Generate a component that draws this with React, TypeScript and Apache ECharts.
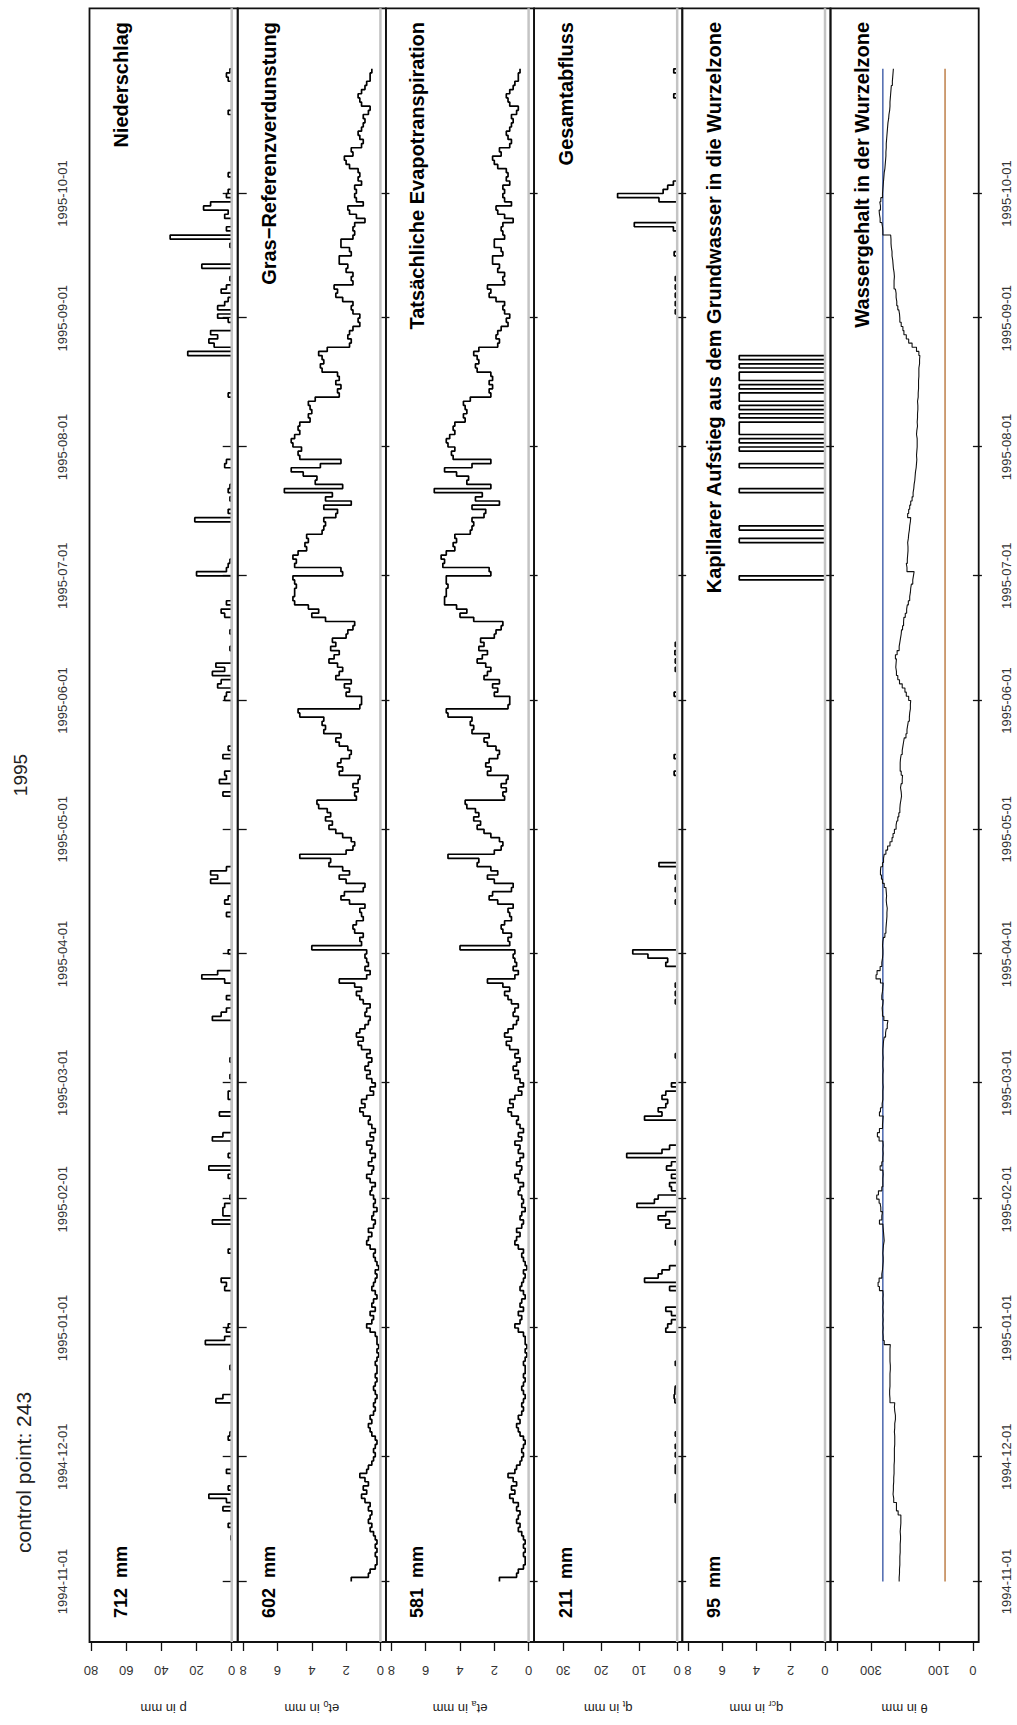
import React, { useEffect, useRef } from "react";
import * as echarts from "echarts";

// ---------- data ----------
const DAY = 86400000;
const START_DATE = "1994-11-01";
const N_DAYS = 365;

const monthTicks = [
  "1994-11-01", "1994-12-01", "1995-01-01", "1995-02-01", "1995-03-01", "1995-04-01",
  "1995-05-01", "1995-06-01", "1995-07-01", "1995-08-01", "1995-09-01", "1995-10-01",
];

const panelTitles = [
  "Niederschlag",
  "Gras\u2212Referenzverdunstung",
  "Tatsächliche Evapotranspiration",
  "Gesamtabfluss",
  "Kapillarer Aufstieg aus dem Grundwasser in die Wurzelzone",
  "Wassergehalt in der Wurzelzone",
];
const panelTotals = ["712  mm", "602  mm", "581  mm", "211  mm", "95  mm", ""];
const axisNames = ["p in mm", "et{s|0} in mm", "et{s|a} in mm", "q{s|t} in mm", "q{s|cr} in mm", "\u03b8 in mm"];
const yTickValues = [[0, 20, 40, 60, 80], [0, 2, 4, 6, 8], [0, 2, 4, 6, 8], [0, 10, 20, 30], [0, 2, 4, 6, 8], [0, 100, 200, 300, 400]];
const yLabelValues = [[0, 20, 40, 60, 80], [0, 2, 4, 6, 8], [0, 2, 4, 6, 8], [0, 10, 20, 30], [0, 2, 4, 6, 8], [0, 100, 300]];

// precipitation (mm/day), rain days only
const precipDates = [
  "1994-11-11", "1994-11-14", "1994-11-18", "1994-11-20", "1994-11-21", "1994-11-23", "1994-11-27",
  "1994-12-05", "1994-12-06", "1994-12-14", "1994-12-15", "1994-12-22", "1994-12-28", "1994-12-29", "1994-12-31",
  "1995-01-01", "1995-01-10", "1995-01-11", "1995-01-12", "1995-01-19", "1995-01-26", "1995-01-28", "1995-01-29", "1995-01-30",
  "1995-02-01", "1995-02-06", "1995-02-08", "1995-02-11", "1995-02-15", "1995-02-16", "1995-02-21", "1995-02-25", "1995-02-26",
  "1995-03-02", "1995-03-06", "1995-03-16", "1995-03-17", "1995-03-18", "1995-03-21", "1995-03-25", "1995-03-26", "1995-03-27",
  "1995-04-01", "1995-04-10", "1995-04-13", "1995-04-14", "1995-04-18", "1995-04-19", "1995-04-20", "1995-04-21",
  "1995-05-09", "1995-05-12", "1995-05-13", "1995-05-14", "1995-05-18", "1995-05-20",
  "1995-06-01", "1995-06-02", "1995-06-04", "1995-06-05", "1995-06-07", "1995-06-08", "1995-06-09", "1995-06-13", "1995-06-17",
  "1995-06-21", "1995-06-22", "1995-06-24",
  "1995-07-01", "1995-07-02", "1995-07-03", "1995-07-04", "1995-07-14", "1995-07-16", "1995-07-19", "1995-07-21", "1995-07-22",
  "1995-07-27", "1995-07-28",
  "1995-08-13", "1995-08-23", "1995-08-25", "1995-08-26", "1995-08-27", "1995-08-28", "1995-08-31",
  "1995-09-01", "1995-09-03", "1995-09-04", "1995-09-05", "1995-09-07", "1995-09-08", "1995-09-10", "1995-09-13", "1995-09-18",
  "1995-09-20", "1995-09-22", "1995-09-25", "1995-09-26", "1995-09-27", "1995-09-28", "1995-09-30",
  "1995-10-01", "1995-10-05", "1995-10-20", "1995-10-28", "1995-10-29", "1995-10-30",
];
const precipMm = [
  0.5, 2, 5, 3, 13, 2, 3,
  2, 1, 9, 5, 1, 15, 4, 3,
  2, 4, 3, 6, 2, 11, 5, 5, 4,
  1, 2, 13, 2, 11, 5, 7, 2, 2,
  1, 1, 11, 6, 3, 3, 4, 17, 8,
  2, 3, 4, 2, 12, 8, 12, 3,
  5, 7, 3, 4, 5, 2,
  4, 3, 8, 6, 11, 4, 9, 1, 1,
  4, 6, 3,
  20, 3, 2, 1, 21, 2, 1, 2, 1,
  4, 3,
  2, 25, 10, 13, 8, 12, 2,
  8, 8, 4, 2, 6, 3, 1, 17, 1,
  35, 3, 4, 2, 16, 12, 3,
  2, 2, 2, 2, 3, 1,
];

// grass reference evapotranspiration et0 (mm/day), daily from 1994-11-01
const et0 = [
  // Nov
  1.7, 0.7, 0.6, 0.3, 0.2, 0.2, 0.3, 0.2, 0.3, 0.2, 0.3, 0.4, 0.6, 0.5, 0.7, 0.6, 0.5, 0.7, 0.6, 0.9,
  1.1, 0.8, 1.0, 0.7, 0.9, 1.2, 0.8, 0.7, 0.5, 0.4,
  // Dec
  0.3, 0.4, 0.3, 0.2, 0.3, 0.5, 0.6, 0.7, 0.5, 0.6, 0.4, 0.3, 0.4, 0.3, 0.2, 0.3, 0.4, 0.3, 0.2, 0.3,
  0.2, 0.2, 0.3, 0.2, 0.1, 0.2, 0.1, 0.2, 0.2, 0.3, 0.6,
  // Jan
  0.8, 0.5, 0.4, 0.6, 0.3, 0.5, 0.4, 0.2, 0.3, 0.5, 0.4, 0.3, 0.2, 0.3, 0.1, 0.2, 0.3, 0.4, 0.3, 0.6,
  0.8, 0.7, 0.5, 0.7, 0.4, 0.3, 0.5, 0.4, 0.2, 0.4, 0.3,
  // Feb
  0.4, 0.6, 0.5, 0.3, 0.6, 0.8, 0.5, 0.4, 0.7, 0.5, 0.3, 0.6, 0.5, 0.8, 0.4, 0.6, 0.3, 0.5, 0.7, 0.6,
  1.0, 1.2, 0.9, 1.1, 0.8, 0.4, 0.6, 0.3,
  // Mar
  0.5, 0.8, 0.6, 0.9, 0.7, 0.5, 0.8, 0.6, 1.1, 1.3, 1.0, 1.4, 1.2, 0.9, 0.7, 0.6, 0.9, 0.8, 0.6, 1.0,
  1.2, 1.4, 1.1, 1.5, 2.4, 0.8, 0.6, 0.9, 0.7, 0.8, 0.9,
  // Apr
  0.8, 4.0, 1.1, 1.2, 1.0, 1.5, 1.6, 1.4, 1.0, 1.1, 1.2, 0.9, 1.8, 2.3, 2.1, 1.0, 0.9, 2.0, 2.4, 1.8,
  2.2, 3.0, 2.9, 4.7, 2.0, 1.6, 1.5, 1.7, 2.2, 2.6,
  // May
  3.0, 2.8, 3.2, 2.9, 3.1, 3.6, 3.7, 1.4, 1.5, 1.3, 1.6, 1.3, 1.2, 2.4, 2.2, 2.5, 2.3, 1.8, 1.7, 1.9,
  2.4, 2.6, 2.3, 3.3, 3.2, 3.4, 3.3, 4.7, 4.8, 1.2, 1.1,
  // Jun
  1.1, 2.0, 1.8, 2.1, 1.7, 2.6, 2.4, 2.2, 2.5, 3.0, 2.7, 2.4, 2.9, 2.6, 2.8, 2.0, 1.9, 1.6, 1.5, 3.2,
  4.0, 3.6, 4.2, 5.0, 5.1, 5.0, 5.0, 4.9, 5.0, 5.1,
  // Jul
  2.2, 2.3, 5.0, 4.9, 5.1, 4.8, 4.3, 4.4, 4.2, 4.3, 3.4, 3.3, 3.2, 3.3, 2.6, 2.5, 3.3, 1.7, 3.2, 2.8,
  5.6, 2.2, 3.8, 3.7, 4.5, 5.2, 3.5, 2.3, 4.7, 4.8, 4.6,
  // Aug
  5.1, 5.2, 5.0, 4.7, 4.8, 4.7, 4.1, 4.2, 4.0, 4.1, 4.2, 3.8, 2.4, 2.5, 2.3, 2.6, 2.4, 2.5, 3.4, 3.5,
  3.3, 3.4, 3.6, 3.1, 1.8, 1.7, 1.9, 1.8, 1.6, 1.2, 1.3,
  // Sep
  1.2, 1.6, 1.7, 1.6, 2.2, 2.6, 2.5, 2.7, 1.6, 1.7, 1.6, 2.0, 1.9, 2.4, 2.4, 1.7, 1.8, 2.3, 2.3, 1.6,
  1.5, 1.6, 1.5, 0.9, 1.4, 1.8, 1.9, 1.0, 1.4, 1.5,
  // Oct
  1.4, 1.5, 1.1, 1.3, 1.2, 1.3, 1.8, 2.0, 2.1, 1.6, 1.7, 1.1, 1.0, 1.2, 1.3, 1.1, 1.0, 0.9, 1.0, 0.7,
  0.6, 1.1, 1.2, 1.3, 1.1, 0.9, 0.8, 0.6, 0.6, 0.5, 0.5,
];

// actual evapotranspiration eta (mm/day)
const eta = [
  // Nov
  1.7, 0.7, 0.6, 0.3, 0.2, 0.2, 0.3, 0.2, 0.3, 0.2, 0.3, 0.4, 0.6, 0.5, 0.7, 0.6, 0.5, 0.7, 0.6, 0.9,
  1.1, 0.8, 1.0, 0.7, 0.9, 1.2, 0.8, 0.7, 0.5, 0.4,
  // Dec
  0.3, 0.4, 0.3, 0.2, 0.3, 0.5, 0.6, 0.7, 0.5, 0.6, 0.4, 0.3, 0.4, 0.3, 0.2, 0.3, 0.4, 0.3, 0.2, 0.3,
  0.2, 0.2, 0.3, 0.2, 0.1, 0.2, 0.1, 0.2, 0.2, 0.3, 0.6,
  // Jan
  0.8, 0.5, 0.4, 0.6, 0.3, 0.5, 0.4, 0.2, 0.3, 0.5, 0.4, 0.3, 0.2, 0.3, 0.1, 0.2, 0.3, 0.4, 0.3, 0.6,
  0.8, 0.7, 0.5, 0.7, 0.4, 0.3, 0.5, 0.4, 0.2, 0.4, 0.3,
  // Feb
  0.4, 0.6, 0.5, 0.3, 0.6, 0.8, 0.5, 0.4, 0.7, 0.5, 0.3, 0.6, 0.5, 0.8, 0.4, 0.6, 0.3, 0.5, 0.7, 0.6,
  1.0, 1.2, 0.9, 1.1, 0.8, 0.4, 0.6, 0.3,
  // Mar
  0.5, 0.8, 0.6, 0.9, 0.7, 0.5, 0.8, 0.6, 1.1, 1.3, 1.0, 1.4, 1.2, 0.9, 0.7, 0.6, 0.9, 0.8, 0.6, 1.0,
  1.2, 1.4, 1.1, 1.5, 2.4, 0.8, 0.6, 0.9, 0.7, 0.8, 0.9,
  // Apr
  0.8, 4.0, 1.1, 1.2, 1.0, 1.5, 1.6, 1.4, 1.0, 1.1, 1.2, 0.9, 1.8, 2.3, 2.1, 1.0, 0.9, 2.0, 2.4, 1.8,
  2.2, 3.0, 2.9, 4.7, 2.0, 1.6, 1.5, 1.7, 2.2, 2.6,
  // May
  3.0, 2.8, 3.2, 2.9, 3.1, 3.6, 3.7, 1.4, 1.5, 1.3, 1.6, 1.3, 1.2, 2.4, 2.2, 2.5, 2.3, 1.8, 1.7, 1.9,
  2.4, 2.6, 2.3, 3.3, 3.2, 3.4, 3.3, 4.7, 4.8, 1.2, 1.1,
  // Jun
  1.1, 2.0, 1.8, 2.1, 1.7, 2.6, 2.4, 2.2, 2.5, 3.0, 2.7, 2.4, 2.9, 2.6, 2.8, 2.0, 1.9, 1.6, 1.5, 3.2,
  4.0, 3.6, 4.2, 4.9, 4.9, 4.8, 4.8, 4.7, 4.8, 4.8,
  // Jul
  2.2, 2.3, 5.0, 4.9, 5.1, 4.8, 4.3, 4.4, 4.2, 4.3, 3.4, 3.3, 3.2, 3.3, 2.6, 2.5, 3.3, 1.7, 3.1, 2.7,
  5.5, 2.2, 3.6, 3.5, 4.2, 4.9, 3.3, 2.2, 4.4, 4.5, 4.3,
  // Aug
  4.7, 4.8, 4.6, 4.3, 4.4, 4.3, 3.7, 3.8, 3.6, 3.7, 3.8, 3.4, 2.2, 2.3, 2.1, 2.3, 2.1, 2.2, 3.0, 3.1,
  2.9, 3.0, 3.2, 2.9, 1.8, 1.7, 1.9, 1.8, 1.6, 1.2, 1.3,
  // Sep
  1.1, 1.4, 1.5, 1.4, 1.9, 2.3, 2.2, 2.4, 1.4, 1.5, 1.4, 1.8, 1.7, 2.1, 2.1, 1.5, 1.6, 2.0, 2.0, 1.4,
  1.5, 1.6, 1.5, 0.9, 1.4, 1.8, 1.9, 1.0, 1.4, 1.5,
  // Oct
  1.4, 1.5, 1.1, 1.3, 1.2, 1.3, 1.8, 2.0, 2.1, 1.6, 1.7, 1.1, 1.0, 1.2, 1.3, 1.1, 1.0, 0.9, 1.0, 0.7,
  0.6, 1.1, 1.2, 1.3, 1.1, 0.9, 0.8, 0.6, 0.6, 0.5, 0.5,
];

// total discharge qt (mm/day), days with runoff only
const runoffDates = [
  "1994-11-20", "1994-11-21", "1994-11-27", "1994-11-28", "1994-12-01", "1994-12-03", "1994-12-06",
  "1994-12-14", "1994-12-15", "1994-12-16", "1994-12-17", "1994-12-23", "1994-12-31",
  "1995-01-01", "1995-01-02", "1995-01-04", "1995-01-05", "1995-01-10", "1995-01-12", "1995-01-13", "1995-01-14",
  "1995-01-15", "1995-01-21", "1995-01-25", "1995-01-26", "1995-01-27", "1995-01-28", "1995-01-30", "1995-01-31",
  "1995-02-01", "1995-02-03", "1995-02-04", "1995-02-06", "1995-02-08", "1995-02-09", "1995-02-11", "1995-02-12",
  "1995-02-13", "1995-02-20", "1995-02-21", "1995-02-22", "1995-02-23", "1995-02-24", "1995-02-25", "1995-02-26", "1995-02-28",
  "1995-03-07", "1995-03-20", "1995-03-22", "1995-03-24", "1995-03-29", "1995-03-30", "1995-03-31",
  "1995-04-01", "1995-04-13", "1995-04-16", "1995-04-19", "1995-04-22",
  "1995-05-14", "1995-05-18", "1995-06-02", "1995-06-08", "1995-06-10", "1995-06-12", "1995-06-14",
  "1995-09-02", "1995-09-04", "1995-09-06", "1995-09-08", "1995-09-10", "1995-09-16", "1995-09-22", "1995-09-23",
  "1995-09-29", "1995-09-30", "1995-10-01", "1995-10-02", "1995-10-03", "1995-10-24", "1995-10-30",
];
const runoffMm = [
  0.5, 0.5, 0.5, 0.5, 0.5, 0.5, 0.5,
  0.6, 0.8, 0.6, 0.5, 0.5, 3,
  2.5, 1.5, 1.5, 3, 2, 8.6, 5, 4,
  2, 0.5, 3, 2, 5, 3, 10.6, 6,
  5, 1.5, 2, 1.5, 2.8, 1.5, 13.3, 4,
  2, 8.6, 4, 5, 3, 2.5, 4, 3, 1.5,
  0.5, 0.5, 0.5, 0.5, 3, 2.5, 7.7,
  11.7, 0.5, 0.5, 0.5, 4.8,
  0.8, 0.8, 0.8, 0.5, 0.5, 0.6, 0.5,
  0.5, 0.5, 0.5, 0.5, 0.5, 0.8, 1, 11.3,
  4.8, 15.7, 3.7, 2.5, 1, 0.9, 0.9,
];

// capillary rise qcr (mm/day), days with rise only
const capRiseDates = [
  "1995-06-30", "1995-07-09", "1995-07-12", "1995-07-21", "1995-07-27", "1995-07-31", "1995-08-02",
  "1995-08-04", "1995-08-05", "1995-08-06", "1995-08-08", "1995-08-10", "1995-08-12", "1995-08-13",
  "1995-08-15", "1995-08-17", "1995-08-18", "1995-08-20", "1995-08-22",
];
const capRiseMm = [5, 5, 5, 5, 5, 5, 5, 5, 5, 5, 5, 5, 5, 5, 5, 5, 5, 5, 5];

// soil water content in the root zone (mm), daily from 1994-11-01
const theta = [
  // Nov
  217, 216, 216, 215, 215, 215, 214, 214, 214, 213, 213, 214, 213, 212, 212, 212, 220, 225, 225, 233,
  235, 234, 234, 233, 233, 232, 232, 232, 231, 231,
  // Dec
  231, 231, 230, 230, 230, 231, 230, 230, 228, 228, 230, 231, 230, 244, 245, 245, 244, 244, 244, 244,
  243, 243, 244, 244, 244, 244, 243, 261, 264, 265, 264,
  // Jan
  265, 264, 265, 264, 265, 264, 265, 264, 265, 275, 279, 276, 268, 266, 265, 264, 264, 265, 264, 263,
  261, 262, 263, 264, 265, 275, 268, 266, 271, 273, 276,
  // Feb
  283, 278, 268, 265, 265, 264, 265, 273, 268, 265, 264, 265, 264, 265, 276, 281, 275, 266, 265, 264,
  275, 272, 267, 265, 265, 265, 264, 265,
  // Mar
  265, 265, 264, 265, 265, 264, 265, 265, 264, 263, 261, 257, 255, 252, 250, 262, 266, 267, 265, 264,
  268, 266, 265, 264, 272, 285, 282, 273, 268, 266, 265,
  // Apr
  265, 266, 265, 263, 259, 256, 255, 254, 253, 253, 252, 254, 255, 254, 255, 256, 261, 266, 269, 272,
  271, 266, 263, 261, 256, 251, 244, 238, 235, 231,
  // May
  226, 224, 221, 218, 215, 214, 212, 210, 211, 213, 211, 208, 207, 211, 214, 214, 213, 211, 208, 206,
  204, 202, 197, 194, 192, 190, 187, 186, 184, 184, 183,
  // Jun
  189, 196, 200, 208, 216, 221, 225, 227, 226, 225, 228, 223, 217, 215, 213, 211, 210, 207, 204, 203,
  199, 195, 193, 190, 186, 184, 183, 181, 177, 175,
  // Jul
  173, 194, 196, 193, 192, 191, 191, 192, 190, 189, 187, 186, 184, 183, 192, 189, 186, 183, 179, 176,
  174, 173, 171, 170, 169, 167, 166, 165, 166, 165, 164,
  // Aug
  164, 164, 166, 165, 163, 164, 163, 163, 162, 162, 163, 161, 161, 160, 160, 160, 159, 159, 159, 157,
  157, 156, 159, 166, 179, 189, 196, 203, 206, 211, 215,
  // Sep
  216, 218, 221, 224, 226, 226, 228, 232, 232, 231, 232, 234, 235, 236, 238, 238, 240, 241, 241, 242,
  265, 266, 268, 273, 275, 276, 272, 274, 271, 266,
  // Oct
  265, 264, 263, 262, 261, 259, 258, 257, 256, 256, 255, 255, 254, 253, 252, 251, 250, 248, 247, 245,
  244, 244, 243, 242, 241, 240, 237, 236, 235, 234, 234,
];
const fieldCapacity = 265;
const wiltingPoint = 82;

// ---------- helpers ----------
const ts = (s: string) => Date.parse(s + "T00:00:00Z");
const T0 = ts(START_DATE);
const dayTs = (i: number) => T0 + i * DAY;

function dailyPairs(vals: number[]) {
  return vals.map((v, i) => [dayTs(i), v]);
}
function sparsePairs(dates: string[], vals: number[]) {
  const arr: number[] = new Array(N_DAYS).fill(0);
  dates.forEach((d, j) => {
    const i = Math.round((ts(d) - T0) / DAY);
    if (i >= 0 && i < N_DAYS) arr[i] += vals[j];
  });
  return arr.map((v, i) => [dayTs(i), v]);
}

const FONT = '"Liberation Sans", Arial, Helvetica, sans-serif';

// layout (chart drawn unrotated, 1725 x 1017, then turned 90° counter-clockwise)
const W = 1725;
const H = 1017;
const GRID_LEFT = 78.3;
const GRID_RIGHT = 8.3;
const PANEL_TOP = 89.5;
const PANEL_H = 148.2;
const X_PAD_FRACTION = 0.04;

const yRanges = [
  [-3.4, 80.85],
  [-0.32, 8.32],
  [-0.32, 8.32],
  [-1.35, 37.7],
  [-0.32, 8.32],
  [-17, 419],
];

function buildOption() {
  const span = (N_DAYS - 1) * DAY;
  const xMin = T0 - X_PAD_FRACTION * span;
  const xMax = T0 + span + X_PAD_FRACTION * span;
  const tickTs = monthTicks.map(ts);
  const fmtDate = (v: number) => {
    const idx = tickTs.indexOf(v);
    return idx >= 0 ? monthTicks[idx] : "";
  };
  const tickStyle = { color: "#111", width: 1.3 };

  const grids = yRanges.map((_, k) => ({
    left: GRID_LEFT,
    right: GRID_RIGHT,
    top: PANEL_TOP + PANEL_H * k,
    height: PANEL_H,
    show: true,
    borderColor: "#111",
    borderWidth: 1.8,
    backgroundColor: "transparent",
  }));

  const xBase: any = {
    type: "value",
    min: xMin,
    max: xMax,
    splitLine: { show: false },
    axisLine: { show: false },
    axisTick: { show: true, inside: false, length: 9, customValues: tickTs, lineStyle: tickStyle },
  };
  const dateLabel = {
    show: true,
    customValues: tickTs,
    formatter: fmtDate,
    margin: 21,
    fontSize: 13,
    fontFamily: FONT,
    color: "#333",
  };
  const xAxes: any[] = [
    { ...xBase, gridIndex: 0, position: "top", axisLabel: dateLabel },
    ...yRanges.map((_, k) => ({
      ...xBase,
      gridIndex: k,
      position: "bottom",
      axisLabel: k === 5 ? dateLabel : { show: false },
    })),
  ];

  const yAxes: any[] = yRanges.map((r, k) => ({
    type: "value",
    gridIndex: k,
    position: "left",
    min: r[0],
    max: r[1],
    splitLine: { show: false },
    axisLine: { show: false },
    axisTick: { show: true, inside: false, length: 9, customValues: yTickValues[k], lineStyle: tickStyle },
    axisLabel: {
      show: true,
      customValues: yLabelValues[k],
      rotate: 90,
      margin: 22,
      fontSize: 13,
      fontFamily: FONT,
      color: "#333",
    },
    name: axisNames[k],
    nameLocation: "middle",
    nameRotate: 90,
    nameGap: 57,
    nameTextStyle: {
      fontSize: 13,
      fontFamily: FONT,
      color: "#222",
      lineHeight: 18,
      rich: { s: { fontSize: 9, lineHeight: 9, verticalAlign: "bottom", fontFamily: FONT, color: "#222" } },
    },
  }));

  const stepLine = (data: any[], k: number, width = 1.7, color = "#000") => ({
    type: "line",
    step: "end",
    xAxisIndex: k + 1,
    yAxisIndex: k,
    data,
    showSymbol: false,
    symbol: "none",
    silent: true,
    z: 2,
    lineStyle: { color, width },
  });
  const zeroLine = (k: number) => ({
    type: "line",
    xAxisIndex: k + 1,
    yAxisIndex: k,
    data: [[xMin, 0], [xMax, 0]],
    showSymbol: false,
    symbol: "none",
    silent: true,
    z: 4,
    lineStyle: { color: "#c4c4c4", width: 2.5 },
  });
  const constLine = (value: number, color: string) => ({
    type: "line",
    xAxisIndex: 6,
    yAxisIndex: 5,
    data: [[dayTs(0), value], [dayTs(N_DAYS - 1), value]],
    showSymbol: false,
    symbol: "none",
    silent: true,
    z: 2,
    lineStyle: { color, width: 1.4 },
  });

  const series: any[] = [
    stepLine(sparsePairs(precipDates, precipMm), 0),
    stepLine(dailyPairs(et0), 1),
    stepLine(dailyPairs(eta), 2),
    stepLine(sparsePairs(runoffDates, runoffMm), 3),
    stepLine(sparsePairs(capRiseDates, capRiseMm), 4),
    zeroLine(0),
    zeroLine(1),
    zeroLine(2),
    zeroLine(3),
    zeroLine(4),
    constLine(fieldCapacity, "#3d5ca8"),
    constLine(wiltingPoint, "#b9763c"),
    { ...stepLine(dailyPairs(theta), 5, 1.1, "#111"), z: 3 },
  ];

  const texts: any[] = [];
  panelTitles.forEach((t, k) => {
    const y = PANEL_TOP + PANEL_H * k + 31.5;
    texts.push({
      type: "text",
      x: 1703,
      y,
      style: {
        text: t,
        font: `bold 20px ${FONT}`,
        fill: "#000",
        textAlign: "right",
        align: "right",
        textVerticalAlign: "middle",
        verticalAlign: "middle",
      },
    });
    if (panelTotals[k]) {
      texts.push({
        type: "text",
        x: 107,
        y,
        style: {
          text: panelTotals[k],
          font: `bold 18px ${FONT}`,
          fill: "#000",
          textAlign: "left",
          align: "left",
          textVerticalAlign: "middle",
          verticalAlign: "middle",
        },
      });
    }
  });
  texts.push({
    type: "text",
    x: 950,
    y: 20,
    style: {
      text: "1995",
      font: `19px ${FONT}`,
      fill: "#222",
      textAlign: "center",
      align: "center",
      textVerticalAlign: "middle",
      verticalAlign: "middle",
    },
  });
  texts.push({
    type: "text",
    x: 172,
    y: 23,
    style: {
      text: "control point: 243",
      font: `21px ${FONT}`,
      fill: "#222",
      textAlign: "left",
      align: "left",
      textVerticalAlign: "middle",
      verticalAlign: "middle",
    },
  });

  return {
    animation: false,
    backgroundColor: "#fff",
    textStyle: { fontFamily: FONT },
    grid: grids,
    xAxis: xAxes,
    yAxis: yAxes,
    series,
    graphic: { elements: texts },
  };
}

export default function App() {
  const ref = useRef<HTMLDivElement>(null);
  useEffect(() => {
    const el = ref.current;
    if (!el) return;
    const chart = echarts.init(el, null, { renderer: "svg", width: W, height: H });
    chart.setOption(buildOption() as any);
    return () => chart.dispose();
  }, []);
  return (
    <div
      style={{
        position: "absolute",
        left: 0,
        top: 0,
        width: H,
        height: W,
        overflow: "hidden",
        background: "#fff",
      }}
    >
      <div
        ref={ref}
        style={{
          position: "absolute",
          left: 0,
          top: 0,
          width: W,
          height: H,
          transformOrigin: "0 0",
          transform: `translate(0px, ${W}px) rotate(-90deg)`,
        }}
      />
    </div>
  );
}
